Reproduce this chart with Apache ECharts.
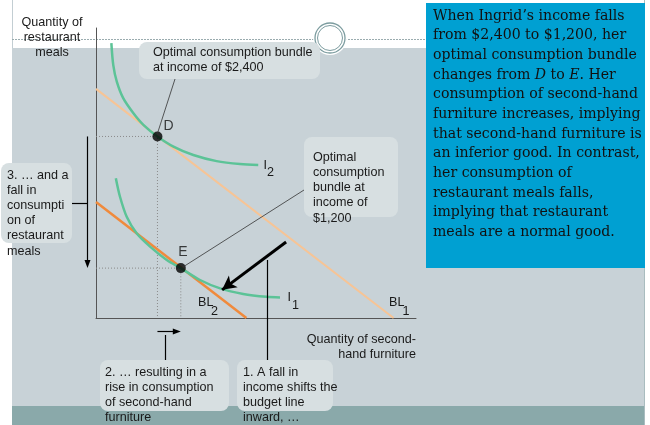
<!DOCTYPE html>
<html>
<head>
<meta charset="utf-8">
<script src="https://cdn.jsdelivr.net/npm/echarts@6/dist/echarts.min.js"></script>
<style>
  html, body { margin: 0; padding: 0; background: #fff; }
  #chart { width: 650px; height: 425px; }
</style>
</head>
<body>
<div id="chart"></div>
<script>
// budget lines (x = second-hand furniture, y = restaurant meals)
var budgetLine1 = [[0, 7.9], [9.3, 0]];
var budgetLine2 = [[0, 4.0], [4.7, 0]];

// indifference curves
var curveI2 = [[0.48, 9.48], [0.54, 8.72], [0.65, 8.15], [0.85, 7.58], [1.17, 7.06], [1.48, 6.66], [1.92, 6.26],
               [2.42, 5.91], [3.04, 5.62], [3.77, 5.41], [4.5, 5.31], [5.07, 5.28]];
var curveI1 = [[0.62, 4.82], [0.75, 4.18], [0.96, 3.49], [1.27, 2.92], [1.69, 2.46], [2.21, 2.0], [2.65, 1.72],
               [3.25, 1.31], [3.88, 1.02], [4.6, 0.83], [5.33, 0.73], [5.75, 0.71]];

// optimal bundles
var pointD = [1.92, 6.26];
var pointE = [2.65, 1.72];

// shift arrow (from, to)
var shiftArrow = [[5.94, 2.62], [3.94, 0.97]];

var textFont = '12.6px "Liberation Sans", Arial, sans-serif';
var serifFont = '14.1px "DejaVu Serif", Georgia, serif';

var noteLines = [
  'When Ingrid\u2019s income falls',
  'from $2,400 to $1,200, her',
  'optimal consumption bundle',
  'changes from {i|D} to {i|E}. Her',
  'consumption of second-hand',
  'furniture increases, implying',
  'that second-hand furniture is',
  'an inferior good. In contrast,',
  'her consumption of',
  'restaurant meals falls,',
  'implying that restaurant',
  'meals are a normal good.'
];

var chart = echarts.init(document.getElementById('chart'));

var option = {
  animation: false,
  backgroundColor: '#fff',
  grid: { left: 96, top: 28, width: 320, height: 290 },
  xAxis: {
    type: 'value', min: 0, max: 10,
    axisLine: { lineStyle: { color: '#555', width: 1 } },
    axisTick: { show: false }, axisLabel: { show: false }, splitLine: { show: false }
  },
  yAxis: {
    type: 'value', min: 0, max: 10,
    axisLine: { show: true, lineStyle: { color: '#555', width: 1 } },
    axisTick: { show: false }, axisLabel: { show: false }, splitLine: { show: false }
  },
  series: [
    {
      // dotted guides to D
      type: 'line', data: [[0, pointD[1]], pointD, [pointD[0], 0]],
      symbol: 'none', lineStyle: { color: '#8a8a8a', width: 1, type: [1, 2] }, z: 1
    },
    {
      // dotted guides to E
      type: 'line', data: [[0, pointE[1]], pointE, [pointE[0], 0]],
      symbol: 'none', lineStyle: { color: '#8a8a8a', width: 1, type: [1, 2] }, z: 1
    },
    {
      name: 'BL1', type: 'line', data: budgetLine1, symbol: 'none',
      lineStyle: { color: '#f7c495', width: 2 }
    },
    {
      name: 'BL2', type: 'line', data: budgetLine2, symbol: 'none',
      lineStyle: { color: '#f08a3c', width: 2.5 }
    },
    {
      name: 'I2', type: 'line', data: curveI2, symbol: 'none', smooth: 0.3,
      lineStyle: { color: '#5cc397', width: 2.5 }
    },
    {
      name: 'I1', type: 'line', data: curveI1, symbol: 'none', smooth: 0.3,
      lineStyle: { color: '#5cc397', width: 2.5 },
      markLine: {
        silent: true, symbol: ['none', 'arrow'], symbolSize: [11, 14],
        lineStyle: { color: '#000', width: 3, type: 'solid' },
        label: { show: false },
        data: [[{ coord: shiftArrow[0] }, { coord: shiftArrow[1] }]]
      }
    },
    {
      type: 'scatter', symbolSize: 10, z: 5,
      itemStyle: { color: '#000' },
      data: [
        { value: pointD, label: { show: true, formatter: 'D', position: 'right', distance: 1, offset: [0, -10] } },
        { value: pointE, label: { show: true, formatter: 'E', position: 'top', distance: 4, offset: [2, 0] } }
      ],
      label: { color: '#111', fontSize: 14, fontFamily: 'Liberation Sans' }
    }
  ]
};
chart.setOption(option);

var pD = chart.convertToPixel({ gridIndex: 0 }, pointD);
var pE = chart.convertToPixel({ gridIndex: 0 }, pointE);

function txt(x, y, s, extra) {
  var st = { text: s, fill: '#1a1a1a', font: textFont, lineHeight: 15.2, verticalAlign: 'top', textVerticalAlign: 'top' };
  for (var k in extra) st[k] = extra[k];
  return { type: 'text', x: x, y: y, z: 30, style: st };
}
function box(x, y, w, h) {
  return { type: 'rect', z: 25, shape: { x: x, y: y, width: w, height: h, r: 8 }, style: { fill: '#d7dfe1' } };
}
function seg(x1, y1, x2, y2, color, width, z) {
  return { type: 'line', z: z || 26, shape: { x1: x1, y1: y1, x2: x2, y2: y2 }, style: { stroke: color, lineWidth: width } };
}

var g = [
  // page background
  { type: 'rect', z: -10, shape: { x: 12, y: 48, width: 632, height: 358 }, style: { fill: '#c8d2d7' } },
  { type: 'rect', z: -10, shape: { x: 12, y: 406, width: 632, height: 19 }, style: { fill: '#8aa9aa' } },
  seg(12.5, 0, 12.5, 48, '#c3ced3', 1, -9),
  seg(644.5, 0, 644.5, 425, '#a9bcbf', 1, -9),
  { type: 'line', z: -9, shape: { x1: 12, y1: 39.5, x2: 316, y2: 39.5 }, style: { stroke: '#9aacaf', lineWidth: 1, lineDash: [2, 1] } },
  { type: 'line', z: -9, shape: { x1: 345, y1: 39.5, x2: 426, y2: 39.5 }, style: { stroke: '#9aacaf', lineWidth: 1, lineDash: [2, 1] } },
  { type: 'circle', z: -8, shape: { cx: 330, cy: 38, r: 17 }, style: { fill: '#fff' } },
  { type: 'circle', z: -7, shape: { cx: 330, cy: 38, r: 15 }, style: { fill: 'none', stroke: '#7c9c9f', lineWidth: 1.3 } },
  { type: 'circle', z: -7, shape: { cx: 330, cy: 38, r: 12.5 }, style: { fill: 'none', stroke: '#7c9c9f', lineWidth: 1 } },

  // blue note box
  { type: 'rect', z: 20, shape: { x: 426, y: 3, width: 219, height: 265 }, style: { fill: '#00a0d2' } },

  // axis titles
  txt(52, 14.5, 'Quantity of\nrestaurant\nmeals', { align: 'center', textAlign: 'center' }),
  txt(416, 332.5, 'Quantity of second-\nhand furniture', { align: 'right', textAlign: 'right', lineHeight: 15 }),

  // curve labels
  txt(263.5, 158, 'I'), txt(267, 165, '2'),
  txt(287.5, 289.5, 'I'), txt(292, 298, '1'),
  txt(198, 295, 'BL'), txt(211, 304, '2'),
  txt(389, 295, 'BL'), txt(402.5, 304, '1'),

  // leader lines to D and E
  seg(pD[0], pD[1] - 3, 175, 79, '#333', 0.8),
  seg(pE[0] + 2, pE[1] - 1, 304, 190, '#333', 0.8),

  // callout boxes
  box(139, 42, 181, 37),
  txt(153, 45.5, 'Optimal consumption bundle\nat income of $2,400', { lineHeight: 15 }),
  box(304, 137, 94, 80),
  txt(313, 149.5, 'Optimal\nconsumption\nbundle at\nincome of\n$1,200', { lineHeight: 15.25 }),
  box(1, 163, 71, 80),
  txt(7, 167.5, '3. \u2026 and a\nfall in\nconsumpti\non of\nrestaurant\nmeals'),
  box(100, 360, 129, 51),
  txt(105, 365.5, '2. \u2026 resulting in a\nrise in consumption\nof second-hand\nfurniture', { lineHeight: 15 }),
  box(237, 360, 96, 51),
  txt(243, 365.5, '1. A fall in\nincome shifts the\nbudget line\ninward, \u2026', { lineHeight: 15 }),

  // step 3 arrow: drop in meals from D to E
  seg(72, 203.5, 87.5, 203.5, '#000', 1.2),
  seg(87.5, pD[1], 87.5, pE[1] - 6, '#000', 1.2),
  { type: 'polygon', z: 26, shape: { points: [[84.5, pE[1] - 8], [90.5, pE[1] - 8], [87.5, pE[1]]] }, style: { fill: '#000' } },

  // step 2 arrow: rise in furniture from D to E
  seg(pD[0], 331.5, pE[0] - 6, 331.5, '#000', 1.2),
  { type: 'polygon', z: 26, shape: { points: [[pE[0] - 8, 328.5], [pE[0] - 8, 334.5], [pE[0], 331.5]] }, style: { fill: '#000' } },
  seg(165.5, 335, 165.5, 360, '#000', 1.2),

  // step 1 connector
  seg(267.5, 260, 267.5, 360, '#000', 1.2)
];

noteLines.forEach(function (line, i) {
  g.push({
    type: 'text', x: 433, y: 16 + i * 19.65, z: 30,
    style: {
      text: line, fill: '#111', font: serifFont,
      verticalAlign: 'middle', textVerticalAlign: 'middle',
      rich: { i: { fontStyle: 'italic', fontFamily: 'DejaVu Serif', fontSize: 14.1, fill: '#111' } }
    }
  });
});

chart.setOption({ graphic: g });
</script>
</body>
</html>
